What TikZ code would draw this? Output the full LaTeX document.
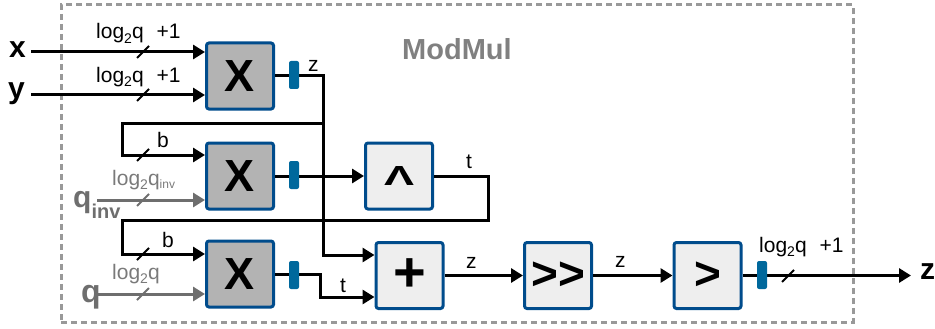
\documentclass[tikz,border=0pt]{standalone}
\usepackage{fontspec}
\setmainfont{Liberation Sans}
\usetikzlibrary{arrows.meta}
\definecolor{boxblue}{HTML}{004C8C}
\definecolor{regblue}{HTML}{00689C}
\definecolor{multgray}{HTML}{B3B3B3}
\definecolor{opgray}{HTML}{EEEEEE}
\definecolor{ingray}{HTML}{6E6E6E}
\definecolor{lblgray}{HTML}{7A7A7A}
\definecolor{framegray}{HTML}{999999}
\definecolor{titlegray}{HTML}{808080}
\newcommand\fsz[1]{\fontsize{#1}{#1}\selectfont}
\newcommand\logq{log\raisebox{-4.5pt}{\fsz{14}2}q}
\newcommand\slashat[1]{\draw[slash] ([shift={(-6,6)}]#1) -- ([shift={(6,-6)}]#1);}
\begin{document}
\begin{tikzpicture}[x=1pt,y=-1pt,
  opbox/.style={draw=boxblue, line width=3pt, rounded corners=2.5pt, minimum width=67pt, minimum height=66pt, inner sep=0pt},
  mult/.style={opbox, fill=multgray, font=\fsz{45}\bfseries},
  op/.style={opbox, fill=opgray},
  reg/.style={fill=regblue, rounded corners=2pt, minimum width=10pt, minimum height=28pt, inner sep=0pt},
  wire/.style={line width=3pt},
  arr/.style={wire, -{Triangle[length=12pt,width=14pt]}},
  garr/.style={arr, draw=ingray, fill=ingray},
  slash/.style={line width=2pt},
  lbl/.style={font=\fsz{21}, inner sep=0pt, anchor=base west},
  glbl/.style={lbl, text=lblgray},
  port/.style={font=\fsz{30}\bfseries, inner sep=0pt, anchor=base west},
]
\useasboundingbox (0,0) rectangle (935,329);
% frame
\node[draw=framegray, line width=3pt, dash pattern=on 6pt off 4pt, minimum width=792pt, minimum height=317pt, inner sep=0pt] (frame) at (457,163.5) {};
\node[font=\fsz{29}\bfseries, text=titlegray, inner sep=0pt, anchor=base] (title) at (457,60) {ModMul};
% operator boxes
\node[mult] (m1) at (240,76) {X};
\node[mult] (m2) at (240,176) {X};
\node[mult] (m3) at (240,274) {X};
\node[op, font=\fsz{20}\bfseries] (pw) at (399,176) {\resizebox{30pt}{19pt}{Λ}};
\node[op, font=\fsz{56}\bfseries] (ad) at (409.5,275.5) {+};
\node[op, font=\fsz{46}\bfseries] (sh) at (558,275.5) {>\kern0pt>};
\node[op, font=\fsz{46}\bfseries] (cm) at (707.5,275.5) {>};
% coordinates
\coordinate (xin) at (31,52);
\coordinate (yin) at (31,95);
\coordinate (qi) at (97,200);
\coordinate (qq) at (97,294);
\coordinate (zj) at (323,76);
\coordinate (zb) at (323,123);
\coordinate (zd) at (323,255);
\coordinate (bl1) at (122,123);
\coordinate (b1) at (122,155);
\coordinate (tj) at (488,176);
\coordinate (tb) at (488,220);
\coordinate (bl2) at (122,220);
\coordinate (b2) at (122,254);
\coordinate (tc) at (320,274);
\coordinate (td) at (320,297);
\coordinate (zout) at (911,275.5);
% wires
\draw[arr] (xin) -- (xin -| m1.west);
\draw[arr] (yin) -- (yin -| m1.west);
\draw[garr] (qi) -- (qi -| m2.west);
\draw[garr] (qq) -- (qq -| m3.west);
\draw[arr] (m1.east |- zj) -- (zj) -- (zd) -- (zd -| ad.west);
\draw[arr] (zb) -- (bl1) -- (b1) -- (b1 -| m2.west);
\draw[arr] (m2.east) -- (m2.east -| pw.west);
\draw[arr] (pw.east) -- (tj) -- (tb) -- (bl2) -- (b2) -- (b2 -| m3.west);
\draw[arr] (m3.east |- tc) -- (tc) -- (td) -- (td -| ad.west);
\draw[arr] (ad.east) -- (sh.west);
\draw[arr] (sh.east) -- (cm.west);
\draw[arr] (cm.east) -- (zout);
% registers
\node[reg] (r1) at (294,75) {};
\node[reg] (r2) at (294,175) {};
\node[reg] (r3) at (294,275) {};
\node[reg] (r4) at (762,275) {};
% bus width slashes
\slashat{143,52}
\slashat{143,95}
\slashat{143,155}
\begin{scope}[draw=ingray]
\slashat{143,200}
\slashat{143,294}
\end{scope}
\slashat{143,254}
\slashat{788,276}
% labels
\node[lbl] (l1) at (96,39) {\logq\hspace{13pt}+1};
\node[lbl] (l2) at (96,82) {\logq\hspace{13pt}+1};
\node[glbl] (l3) at (112,185) {\logq\raisebox{-3pt}{\fsz{12}inv}};
\node[glbl] (l4) at (112,279) {\logq};
\node[lbl] (lb1) at (157,147) {b};
\node[lbl] (lb2) at (162,247) {b};
\node[lbl] (lz1) at (308,71) {z};
\node[lbl] (lt1) at (466,168) {t};
\node[lbl] (lt2) at (340,292) {t};
\node[lbl] (lz2) at (466,268) {z};
\node[lbl] (lz3) at (615,267) {z};
\node[lbl] (l5) at (759,252) {\logq\hspace{13pt}+1};
% ports
\node[port] (px) at (9,58) {x};
\node[port] (py) at (8,99) {y};
\node[port, text=ingray] (pqi) at (73,207) {q\raisebox{-11pt}{\fsz{20}\bfseries inv}};
\node[port, font=\fsz{32}\bfseries, text=ingray] (pq) at (81,302) {q};
\node[port] (pz) at (920,279) {z};
\end{tikzpicture}
\end{document}
